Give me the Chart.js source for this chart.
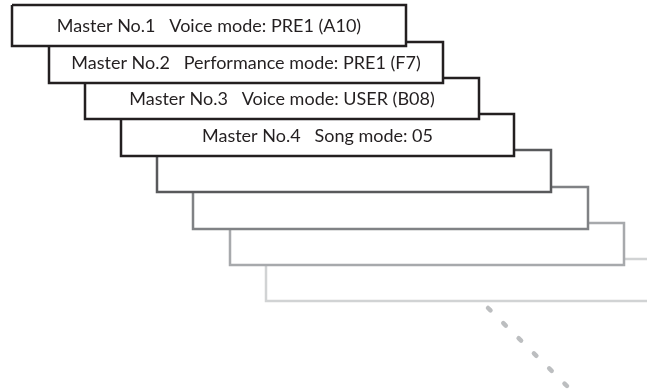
<!DOCTYPE html>
<html>
<head>
<meta charset="utf-8">
<script src="https://cdn.jsdelivr.net/npm/chart.js@4/dist/chart.umd.min.js"></script>
<style>
  html, body { margin: 0; padding: 0; background: #fff; }
  #wrap { width: 647px; height: 391px; }
</style>
</head>
<body>
<div id="wrap"><canvas id="masters" width="647" height="391"></canvas></div>
<script>
// stacked master boxes, front (No.1) to back
const boxLabels = [
    'Master No.1   Voice mode: PRE1 (A10)',
    'Master No.2   Performance mode: PRE1 (F7)',
    'Master No.3   Voice mode: USER (B08)',
    'Master No.4   Song mode: 05',
    '', '', '', ''
];
const boxLeft = [12, 49, 85, 121, 157, 193, 230, 266];
const boxRight = [406, 443, 479, 514, 551, 588, 624, 661];
const boxTop = [5, 42, 78, 114, 150, 187, 223, 259];
const boxBottom = [46, 83, 119, 156, 192, 229, 265, 301];
const boxColors = ['#231f20', '#231f20', '#231f20', '#231f20', '#58595b', '#808285', '#a7a9ac', '#d1d3d4'];

// the "more masters" dotted trail
const trailX = [488, 567];
const trailY = [308, 386];

const boxDatasets = boxLabels.map((label, i) => ({
    label: label,
    data: [
        { x: boxLeft[i], y: boxTop[i] },
        { x: boxRight[i], y: boxTop[i] },
        { x: boxRight[i], y: boxBottom[i] },
        { x: boxLeft[i], y: boxBottom[i] },
        { x: boxLeft[i], y: boxTop[i] }
    ],
    showLine: true,
    borderColor: boxColors[i],
    borderWidth: 2.5,
    borderJoinStyle: 'miter',
    backgroundColor: '#ffffff',
    fill: 'shape',
    pointRadius: 0,
    tension: 0
}));

const trailDataset = {
    label: 'more',
    data: trailX.map((x, i) => ({ x: x, y: trailY[i] })),
    showLine: true,
    borderColor: '#bcbec0',
    borderWidth: 4.5,
    borderCapStyle: 'round',
    borderDash: [3.5, 18],
    pointRadius: 0,
    fill: false
};

const boxText = {
    id: 'boxText',
    afterDatasetsDraw(chart) {
        const ctx = chart.ctx;
        const x = chart.scales.x;
        const y = chart.scales.y;
        ctx.save();
        ctx.fillStyle = '#231f20';
        ctx.font = '18px Lato';
        ctx.textAlign = 'center';
        ctx.textBaseline = 'middle';
        boxLabels.forEach((label, i) => {
            if (!label) return;
            const cx = x.getPixelForValue((boxLeft[i] + boxRight[i]) / 2);
            const cy = y.getPixelForValue((boxTop[i] + boxBottom[i]) / 2) + 1;
            ctx.fillText(label, cx, cy);
        });
        ctx.restore();
    }
};

const ctx = document.getElementById('masters').getContext('2d');
const mastersChart = new Chart(ctx, {
    type: 'scatter',
    data: {
        datasets: [...boxDatasets, trailDataset]
    },
    options: {
        responsive: false,
        animation: false,
        layout: { padding: 0 },
        plugins: {
            legend: { display: false },
            tooltip: { enabled: false }
        },
        scales: {
            x: { type: 'linear', min: 0, max: 647, display: false },
            y: { type: 'linear', min: 0, max: 391, reverse: true, display: false }
        }
    },
    plugins: [boxText]
});
</script>
</body>
</html>
